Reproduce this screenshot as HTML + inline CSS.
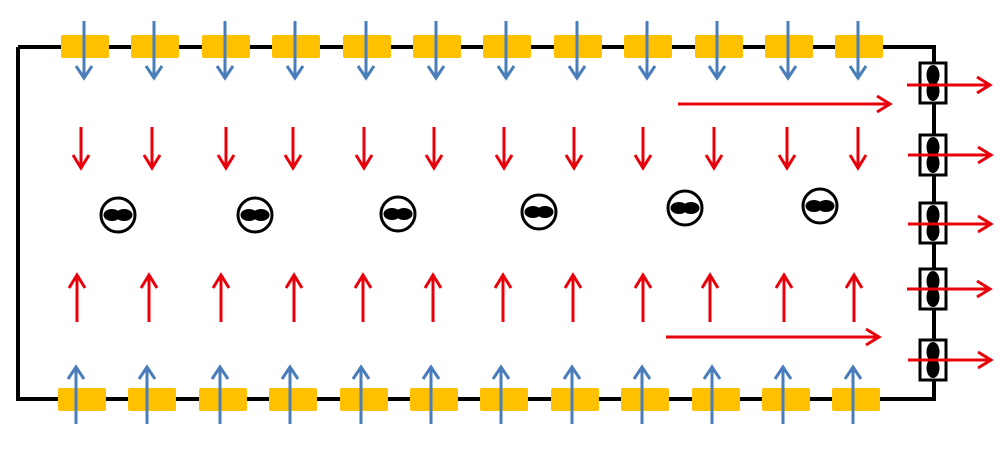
<!DOCTYPE html>
<html><head><meta charset="utf-8"><style>html,body{margin:0;padding:0;background:#fff}svg{display:block}</style></head>
<body>
<svg width="1000" height="453" viewBox="0 0 1000 453" xmlns="http://www.w3.org/2000/svg">
<defs>
<g id="cb"><circle r="17" fill="#fff" stroke="#000" stroke-width="3"/><ellipse cx="-6" cy="0" rx="8.5" ry="6" fill="#000"/><ellipse cx="6" cy="0" rx="8.5" ry="6" fill="#000"/></g>
<g id="rb"><rect x="-13" y="-20" width="26" height="40" fill="#fff" stroke="#000" stroke-width="3"/><ellipse cx="0" cy="-8" rx="6.5" ry="10" fill="#000"/><ellipse cx="0" cy="8" rx="6.5" ry="10" fill="#000"/></g>
<g id="dn"><line x1="0" y1="0" x2="0" y2="40" stroke-width="3"/><polyline points="-8,28 0,41 8,28" fill="none" stroke-width="3"/></g>
<g id="up"><line x1="0" y1="0" x2="0" y2="-46" stroke-width="3"/><polyline points="-8,-34 0,-47 8,-34" fill="none" stroke-width="3"/></g>
<g id="bdn"><line x1="0" y1="0" x2="0" y2="57" stroke-width="3"/><polyline points="-8,45 0,57 8,45" fill="none" stroke-width="3"/></g>
<g id="bup"><line x1="0" y1="0" x2="0" y2="-57" stroke-width="3"/><polyline points="-8,-45 0,-57 8,-45" fill="none" stroke-width="3"/></g>
<g id="rt"><line x1="0" y1="0" x2="83" y2="0" stroke-width="3"/><polyline points="70,-8 83,0 70,8" fill="none" stroke-width="3"/></g>
</defs>
<polyline points="18,47 934,47 934,399 18,399 18,47" fill="none" stroke="#000" stroke-width="4"/>
<g fill="#FFC000">
<rect x="61" y="35" width="48" height="23" rx="2"/><rect x="131" y="35" width="48" height="23" rx="2"/><rect x="202" y="35" width="48" height="23" rx="2"/><rect x="272" y="35" width="48" height="23" rx="2"/><rect x="343" y="35" width="48" height="23" rx="2"/><rect x="413" y="35" width="48" height="23" rx="2"/><rect x="483" y="35" width="48" height="23" rx="2"/><rect x="554" y="35" width="48" height="23" rx="2"/><rect x="624" y="35" width="48" height="23" rx="2"/><rect x="695" y="35" width="48" height="23" rx="2"/><rect x="765" y="35" width="48" height="23" rx="2"/><rect x="835" y="35" width="48" height="23" rx="2"/>
<rect x="58" y="388" width="48" height="23" rx="2"/><rect x="128" y="388" width="48" height="23" rx="2"/><rect x="199" y="388" width="48" height="23" rx="2"/><rect x="269" y="388" width="48" height="23" rx="2"/><rect x="340" y="388" width="48" height="23" rx="2"/><rect x="410" y="388" width="48" height="23" rx="2"/><rect x="480" y="388" width="48" height="23" rx="2"/><rect x="551" y="388" width="48" height="23" rx="2"/><rect x="621" y="388" width="48" height="23" rx="2"/><rect x="692" y="388" width="48" height="23" rx="2"/><rect x="762" y="388" width="48" height="23" rx="2"/><rect x="832" y="388" width="48" height="23" rx="2"/>
</g>
<g stroke="#4A7EBB">
<use href="#bdn" x="84" y="21"/><use href="#bdn" x="154" y="21"/><use href="#bdn" x="225" y="21"/><use href="#bdn" x="295" y="21"/><use href="#bdn" x="366" y="21"/><use href="#bdn" x="436" y="21"/><use href="#bdn" x="506" y="21"/><use href="#bdn" x="577" y="21"/><use href="#bdn" x="647" y="21"/><use href="#bdn" x="717" y="21"/><use href="#bdn" x="788" y="21"/><use href="#bdn" x="858" y="21"/>
<use href="#bup" x="76" y="424"/><use href="#bup" x="147" y="424"/><use href="#bup" x="220" y="424"/><use href="#bup" x="290" y="424"/><use href="#bup" x="361" y="424"/><use href="#bup" x="431" y="424"/><use href="#bup" x="501" y="424"/><use href="#bup" x="572" y="424"/><use href="#bup" x="642" y="424"/><use href="#bup" x="712" y="424"/><use href="#bup" x="783" y="424"/><use href="#bup" x="853" y="424"/>
</g>
<g stroke="#E8000B">
<use href="#dn" x="81" y="127"/><use href="#dn" x="152" y="127"/><use href="#dn" x="226" y="127"/><use href="#dn" x="293" y="127"/><use href="#dn" x="364" y="127"/><use href="#dn" x="434" y="127"/><use href="#dn" x="504" y="127"/><use href="#dn" x="574" y="127"/><use href="#dn" x="643" y="127"/><use href="#dn" x="714" y="127"/><use href="#dn" x="787" y="127"/><use href="#dn" x="858" y="127"/>
<use href="#up" x="77" y="322"/><use href="#up" x="149" y="322"/><use href="#up" x="221" y="322"/><use href="#up" x="294" y="322"/><use href="#up" x="363" y="322"/><use href="#up" x="433" y="322"/><use href="#up" x="503" y="322"/><use href="#up" x="573" y="322"/><use href="#up" x="643" y="322"/><use href="#up" x="710" y="322"/><use href="#up" x="784" y="322"/><use href="#up" x="854" y="322"/>
<line x1="678" y1="104" x2="889" y2="104" stroke-width="3"/><polyline points="877,96 890,104 877,112" fill="none" stroke-width="3"/>
<line x1="666" y1="337" x2="878" y2="337" stroke-width="3"/><polyline points="866,329 879,337 866,345" fill="none" stroke-width="3"/>
</g>
<use href="#cb" x="118" y="215"/><use href="#cb" x="255" y="215"/><use href="#cb" x="398" y="214"/><use href="#cb" x="539" y="212"/><use href="#cb" x="685" y="208"/><use href="#cb" x="820" y="206"/>
<use href="#rb" x="933" y="83"/><use href="#rb" x="933" y="155"/><use href="#rb" x="933" y="223"/><use href="#rb" x="933" y="289"/><use href="#rb" x="933" y="360"/>
<g stroke="#E8000B">
<use href="#rt" x="907" y="85"/><use href="#rt" x="908" y="155"/><use href="#rt" x="908" y="224"/><use href="#rt" x="907" y="289"/><use href="#rt" x="908" y="360"/>
</g>
</svg>
</body></html>
